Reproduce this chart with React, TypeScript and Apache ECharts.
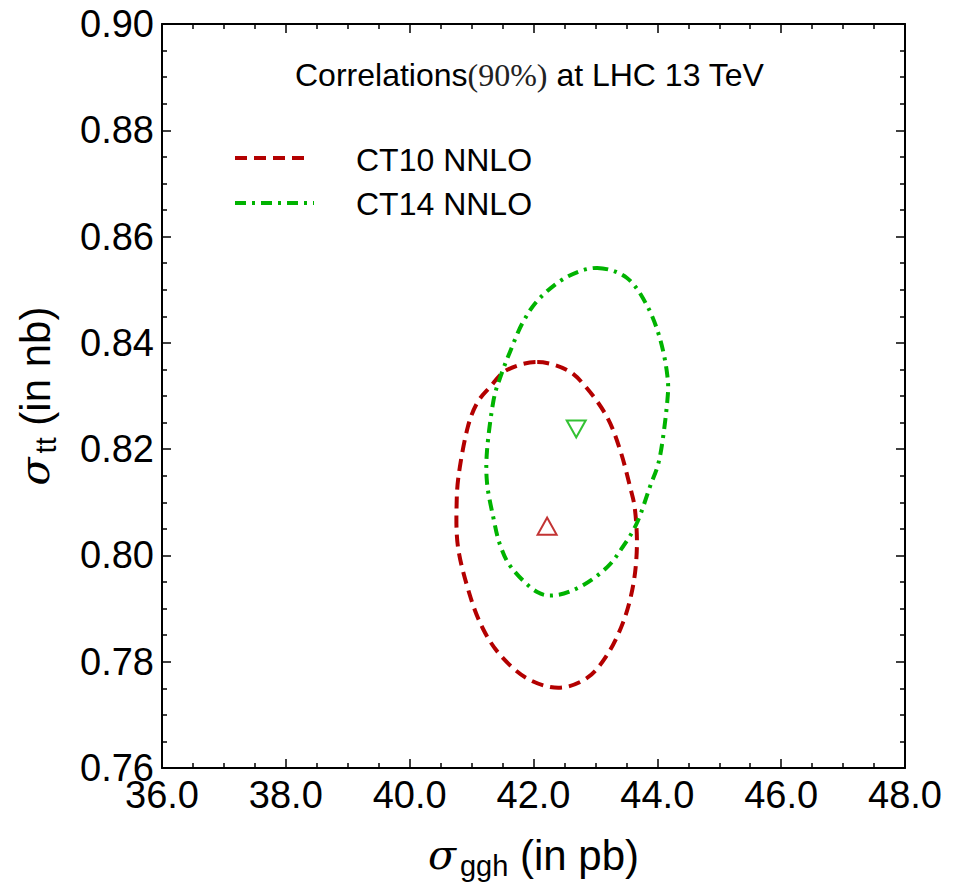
import React, { useEffect, useRef } from "react";
import * as echarts from "echarts";

// CT10 NNLO 90% correlation ellipse (sigma_ggh [pb], sigma_tt [nb]) - closed contour
const ct10X = [42.06, 42.54, 42.86, 43.19, 43.40, 43.56, 43.64, 43.67, 43.61, 43.45, 43.19, 42.86, 42.40, 41.89, 41.46, 41.18, 40.97, 40.78, 40.76, 40.81, 40.94, 41.09, 41.30, 41.57];
const ct10Y = [0.8364, 0.8349, 0.8315, 0.8260, 0.8198, 0.8129, 0.8085, 0.8016, 0.7944, 0.7875, 0.7813, 0.7769, 0.7751, 0.7769, 0.7813, 0.7863, 0.7926, 0.8016, 0.8104, 0.8166, 0.8242, 0.8287, 0.8317, 0.8349];

// CT14 NNLO 90% correlation ellipse - closed contour
const ct14X = [43.03, 43.51, 43.83, 44.04, 44.16, 44.16, 44.04, 43.88, 43.67, 43.43, 43.19, 42.80, 42.40, 42.06, 41.65, 41.46, 41.35, 41.25, 41.25, 41.35, 41.46, 41.62, 41.83, 42.10, 42.54];
const ct14Y = [0.8541, 0.8522, 0.8471, 0.8409, 0.8340, 0.8289, 0.8185, 0.8129, 0.8061, 0.8014, 0.7978, 0.7944, 0.7926, 0.7931, 0.7976, 0.8020, 0.8072, 0.8136, 0.8198, 0.8289, 0.8334, 0.8383, 0.8439, 0.8484, 0.8524];

// central values
const ct10Center = [42.22, 0.8055];
const ct14Center = [42.69, 0.8238];

const seriesNames = ["CT10 NNLO", "CT14 NNLO"];
const xRange = [36, 48, 2];
const yRange = [0.76, 0.9, 0.02];

const RED = "#b30000";
const GREEN = "#00b300";
const RED_DASH = [12, 7];
const GREEN_DASH = [11, 6, 3, 6];
const SANS = "'Liberation Sans', Arial, Helvetica, sans-serif";
const SERIF = "'DejaVu Serif', 'Liberation Serif', serif";

function zip(xs: number[], ys: number[]) {
  return xs.map((x, i) => [x, ys[i]]);
}

// closed Catmull-Rom curve through the (pixel) points, as an SVG path string
function closedSplinePath(pts: number[][]) {
  const n = pts.length;
  const f = (v: number) => v.toFixed(2);
  let d = `M${f(pts[0][0])} ${f(pts[0][1])}`;
  for (let i = 0; i < n; i++) {
    const p0 = pts[(i - 1 + n) % n];
    const p1 = pts[i];
    const p2 = pts[(i + 1) % n];
    const p3 = pts[(i + 2) % n];
    const c1x = p1[0] + (p2[0] - p0[0]) / 6;
    const c1y = p1[1] + (p2[1] - p0[1]) / 6;
    const c2x = p2[0] - (p3[0] - p1[0]) / 6;
    const c2y = p2[1] - (p3[1] - p1[1]) / 6;
    d += ` C${f(c1x)} ${f(c1y)} ${f(c2x)} ${f(c2y)} ${f(p2[0])} ${f(p2[1])}`;
  }
  return d + " Z";
}

function contourSeries(name: string, xs: number[], ys: number[], color: string, dash: number[]) {
  return {
    name,
    type: "custom",
    data: zip(xs, ys),
    encode: { x: 0, y: 1 },
    renderItem: (params: any, api: any) => {
      if (params.dataIndex !== 0) return null;
      const points = xs.map((x, i) => api.coord([x, ys[i]]));
      return {
        type: "path",
        shape: { pathData: closedSplinePath(points) },
        style: { fill: "none", stroke: color, lineWidth: 4, lineDash: dash },
      };
    },
  };
}

export default function App() {
  const ref = useRef<HTMLDivElement>(null);
  useEffect(() => {
    if (!ref.current) return;
    const chart = echarts.init(ref.current, undefined, { renderer: "svg" });
    const axisCommon = {
      axisLine: { show: true, onZero: false, lineStyle: { color: "#000", width: 2 } },
      axisTick: { show: true, inside: true, length: 9, lineStyle: { color: "#000", width: 1.5 } },
      minorTick: { show: true, splitNumber: 4, length: 5, lineStyle: { color: "#000", width: 1.5 } },
      splitLine: { show: false },
      minorSplitLine: { show: false },
    };
    const nameRich = {
      s: { fontFamily: SERIF, fontStyle: "italic", fontSize: 41, color: "#000", verticalAlign: "middle", lineHeight: 50, padding: [0, 4, 0, 0] },
      sub: { fontFamily: SANS, fontSize: 29, color: "#000", verticalAlign: "bottom", lineHeight: 50 },
      n: { fontFamily: SANS, fontSize: 42, color: "#000", verticalAlign: "middle", lineHeight: 50 },
    };
    chart.setOption({
      animation: false,
      backgroundColor: "#fff",
      grid: { left: 162, top: 24, right: 48, bottom: 117, containLabel: false },
      title: {
        text: "{a|Correlations}{b|(90%)}{a| at LHC 13 TeV}",
        left: 290,
        top: 54,
        textStyle: {
          rich: {
            a: { fontFamily: SANS, fontSize: 32, fontWeight: "normal", color: "#000" },
            b: { fontFamily: "'Liberation Serif', serif", fontSize: 32, fontWeight: "normal", color: "#222" },
          },
        },
      },
      graphic: [
        {
          type: "line",
          shape: { x1: 235, y1: 158, x2: 307, y2: 158 },
          style: { stroke: RED, lineWidth: 4, lineDash: RED_DASH },
        },
        {
          type: "text",
          x: 356,
          y: 160,
          style: { text: seriesNames[0], font: `32px ${SANS}`, fill: "#000", textVerticalAlign: "middle" },
        },
        {
          type: "line",
          shape: { x1: 235, y1: 203, x2: 314, y2: 203 },
          style: { stroke: GREEN, lineWidth: 4, lineDash: GREEN_DASH },
        },
        {
          type: "text",
          x: 356,
          y: 204,
          style: { text: seriesNames[1], font: `32px ${SANS}`, fill: "#000", textVerticalAlign: "middle" },
        },
      ],
      xAxis: [
        {
          type: "value",
          position: "bottom",
          min: xRange[0],
          max: xRange[1],
          interval: xRange[2],
          ...axisCommon,
          axisLabel: {
            color: "#000",
            fontFamily: SANS,
            fontSize: 38,
            lineHeight: 26,
            margin: 14,
            formatter: (v: number) => v.toFixed(1),
          },
          name: "{s|σ}{sub|ggh}{n| (in pb)}",
          nameLocation: "middle",
          nameGap: 62,
          nameTextStyle: { rich: nameRich },
        },
        {
          type: "value",
          position: "top",
          min: xRange[0],
          max: xRange[1],
          interval: xRange[2],
          ...axisCommon,
          axisLabel: { show: false },
        },
      ],
      yAxis: [
        {
          type: "value",
          position: "left",
          min: yRange[0],
          max: yRange[1],
          interval: yRange[2],
          ...axisCommon,
          axisLabel: {
            color: "#000",
            fontFamily: SANS,
            fontSize: 38,
            lineHeight: 20,
            margin: 8,
            formatter: (v: number) => v.toFixed(2),
          },
          name: "{s|σ}{sub|tt}{n| (in nb)}",
          nameLocation: "middle",
          nameGap: 102,
          nameRotate: 90,
          nameTextStyle: { rich: nameRich },
        },
        {
          type: "value",
          position: "right",
          min: yRange[0],
          max: yRange[1],
          interval: yRange[2],
          ...axisCommon,
          axisLabel: { show: false },
        },
      ],
      series: [
        contourSeries(seriesNames[0], ct10X, ct10Y, RED, RED_DASH),
        contourSeries(seriesNames[1], ct14X, ct14Y, GREEN, GREEN_DASH),
        {
          name: "CT10 central",
          type: "scatter",
          data: [ct10Center],
          symbol: "triangle",
          symbolSize: [19, 17],
          itemStyle: { color: "rgba(255,255,255,0)", borderColor: RED, borderWidth: 2 },
        },
        {
          name: "CT14 central",
          type: "scatter",
          data: [ct14Center],
          symbol: "triangle",
          symbolRotate: 180,
          symbolSize: [19, 17],
          itemStyle: { color: "rgba(255,255,255,0)", borderColor: GREEN, borderWidth: 2 },
        },
      ],
    });
    return () => chart.dispose();
  }, []);
  return <div ref={ref} style={{ width: 953, height: 885, position: "absolute", left: 0, top: 0 }} />;
}
